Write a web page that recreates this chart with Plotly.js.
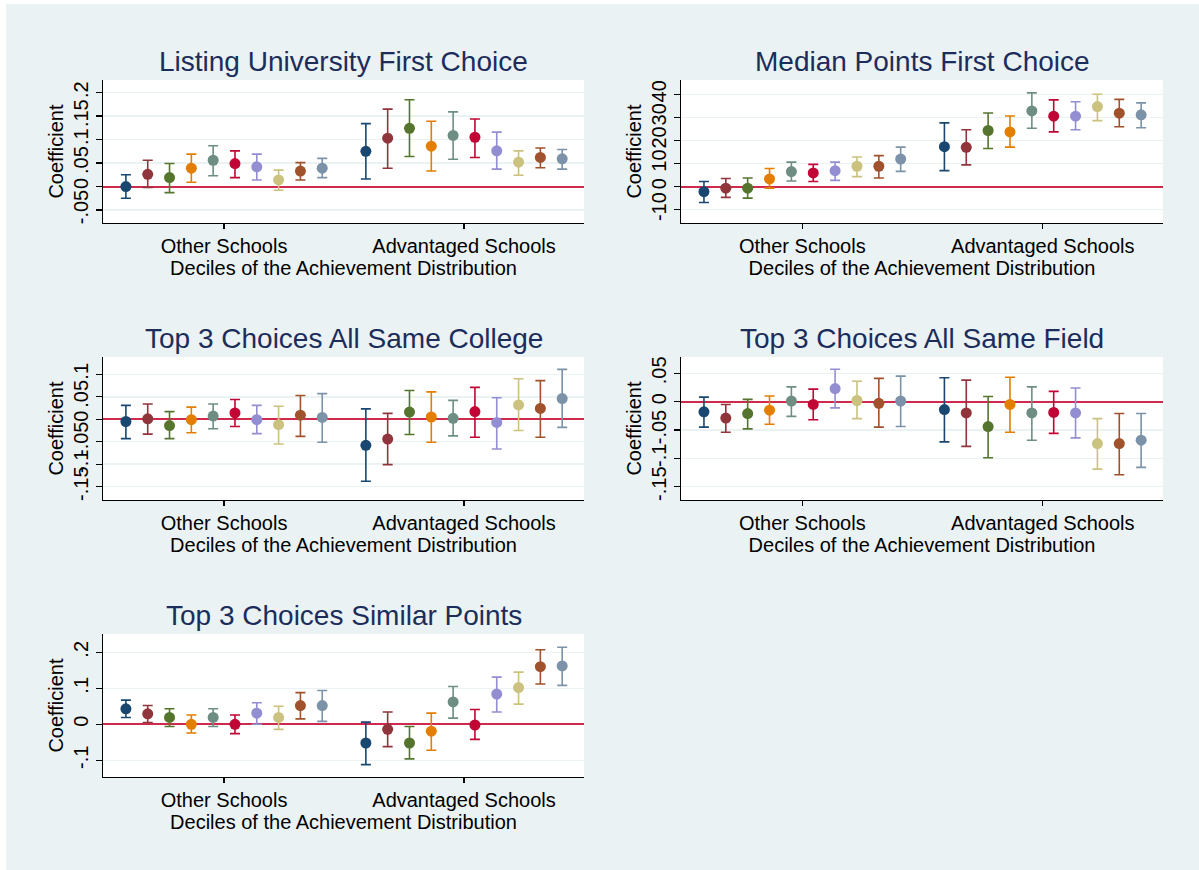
<!DOCTYPE html>
<html><head><meta charset="utf-8">
<script src="https://cdn.plot.ly/plotly-3.0.1.min.js"></script>
<style>body{margin:0;background:#ffffff}#chart{position:absolute;left:6px;top:4px;width:1193px;height:866px}</style>
</head><body><div id="chart"></div><script>
// ---------- categories ----------
const groups = ["Other Schools", "Advantaged Schools"];
const deciles = [1, 2, 3, 4, 5, 6, 7, 8, 9, 10];
const decileColors = ["#1a476f", "#90353b", "#55752f", "#e37e00", "#6e8e84",
                      "#c10534", "#938dd2", "#cac27e", "#a0522d", "#7b92a8"];
const xTitle = "Deciles of the Achievement Distribution";
const yTitle = "Coefficient";

// ---------- values: first 10 = Other Schools deciles 1-10, next 10 = Advantaged Schools ----------
// Listing University First Choice
const listUni_coef = [0, .026, .019, .039, .056, .049, .042, .014, .033, .039,
                      .075, .103, .124, .086, .109, .105, .076, .052, .062, .059];
const listUni_hi   = [.025, .056, .049, .069, .087, .076, .069, .035, .051, .060,
                      .134, .165, .185, .139, .159, .144, .116, .076, .082, .079];
const listUni_lo   = [-.025, -.002, -.013, .009, .023, .019, .014, -.008, .014, .019,
                      .016, .039, .064, .033, .058, .062, .037, .024, .040, .037];
const listUni_ticks = [-0.05, 0, 0.05, 0.1, 0.15, 0.2];
const listUni_tickText = ["-.05", "0", ".05", ".1", ".15", ".2"];

// Median Points First Choice
const medPts_coef = [-2.2, -0.7, -0.7, 3.3, 6.5, 5.9, 6.9, 8.8, 8.8, 11.9,
                     17.3, 17.0, 24.3, 23.7, 32.8, 30.5, 30.5, 34.7, 31.8, 31.1];
const medPts_hi   = [2.2, 3.5, 3.7, 7.8, 10.6, 9.6, 10.6, 12.8, 13.4, 17.1,
                     27.6, 24.6, 31.9, 30.6, 40.6, 37.6, 36.8, 40.0, 37.8, 36.3];
const medPts_lo   = [-6.9, -4.7, -5.0, -0.7, 2.4, 2.2, 2.7, 4.3, 3.7, 6.6,
                     6.9, 9.4, 16.5, 17.1, 25.3, 23.7, 24.6, 28.6, 25.9, 25.5];
const medPts_ticks = [-10, 0, 10, 20, 30, 40];
const medPts_tickText = ["-10", "0", "10", "20", "30", "40"];

// Top 3 Choices All Same College
const sameCol_coef = [-.005, .001, -.014, -.001, .007, .014, -.001, -.012, .009, .004,
                      -.058, -.044, .016, .005, .002, .017, -.007, .032, .024, .046];
const sameCol_hi   = [.031, .034, .017, .027, .034, .044, .031, .029, .053, .057,
                      .023, .013, .064, .061, .042, .071, .048, .090, .086, .111];
const sameCol_lo   = [-.043, -.033, -.043, -.030, -.021, -.016, -.032, -.055, -.038, -.051,
                      -.138, -.101, -.034, -.051, -.037, -.040, -.066, -.025, -.040, -.018];
const sameCol_ticks = [-0.15, -0.1, -0.05, 0, 0.05, 0.1];
const sameCol_tickText = ["-.15", "-.1", "-.05", "0", ".05", ".1"];

// Top 3 Choices All Same Field
const sameField_coef = [-.018, -.029, -.021, -.015, .001, -.005, .023, .002, -.003, .001,
                        -.014, -.020, -.044, -.005, -.020, -.019, -.020, -.074, -.074, -.068];
const sameField_hi   = [.008, -.005, .004, .010, .026, .022, .057, .036, .041, .045,
                        .042, .038, .009, .043, .026, .018, .024, -.030, -.021, -.021];
const sameField_lo   = [-.045, -.054, -.048, -.040, -.026, -.032, -.011, -.030, -.045, -.044,
                        -.071, -.079, -.099, -.054, -.068, -.056, -.064, -.119, -.129, -.116];
const sameField_ticks = [-0.15, -0.1, -0.05, 0, 0.05];
const sameField_tickText = ["-.15", "-.1", "-.05", "0", ".05"];

// Top 3 Choices Similar Points
const simPts_coef = [.043, .029, .019, 0, .019, 0, .031, .019, .052, .052,
                     -.052, -.014, -.052, -.019, .062, -.002, .084, .102, .160, .162];
const simPts_hi   = [.067, .052, .043, .026, .043, .026, .060, .050, .088, .094,
                     .006, .034, -.006, .031, .105, .041, .131, .145, .207, .214];
const simPts_lo   = [.019, .005, -.006, -.024, -.006, -.026, 0, -.014, .015, .008,
                     -.112, -.062, -.096, -.072, .017, -.042, .034, .056, .112, .108];
const simPts_ticks = [-0.1, 0, 0.1, 0.2];
const simPts_tickText = ["-.1", "0", ".1", ".2"];

// ---------- figure ----------
const W = 1193, H = 866;
const px = v => v / W, py = v => 1 - v / H;   // figure-pixel helpers for layout

const panels = [
  {title: "Listing University First Choice", coef: listUni_coef, lo: listUni_lo, hi: listUni_hi,
   tv: listUni_ticks, tt: listUni_tickText, range: [-0.0777, 0.227], x: [97, 578], y: [76, 219]},
  {title: "Median Points First Choice", coef: medPts_coef, lo: medPts_lo, hi: medPts_hi,
   tv: medPts_ticks, tt: medPts_tickText, range: [-15.8, 46.2], x: [675, 1157], y: [76, 219]},
  {title: "Top 3 Choices All Same College", coef: sameCol_coef, lo: sameCol_lo, hi: sameCol_hi,
   tv: sameCol_ticks, tt: sameCol_tickText, range: [-0.1796, 0.1385], x: [97, 578], y: [353, 496]},
  {title: "Top 3 Choices All Same Field", coef: sameField_coef, lo: sameField_lo, hi: sameField_hi,
   tv: sameField_ticks, tt: sameField_tickText, range: [-0.1735, 0.0787], x: [675, 1157], y: [353, 496]},
  {title: "Top 3 Choices Similar Points", coef: simPts_coef, lo: simPts_lo, hi: simPts_hi,
   tv: simPts_ticks, tt: simPts_tickText, range: [-0.1464, 0.2508], x: [97, 578], y: [630, 773]}
];

const FONT = "Liberation Sans, Arial, Helvetica, sans-serif";
const traces = [];
const layout = {
  width: W, height: H,
  margin: {l: 0, r: 0, t: 0, b: 0},
  paper_bgcolor: "#eaf2f3",
  plot_bgcolor: "#ffffff",
  showlegend: false,
  font: {family: FONT, color: "#000000", size: 20},
  annotations: []
};

panels.forEach((p, i) => {
  const s = i === 0 ? "" : String(i + 1);
  deciles.forEach((d, k) => {
    const idx = [k, 10 + k];
    traces.push({
      type: "scatter", mode: "markers",
      x: groups.map((g, gi) => gi * 11 + d),
      y: idx.map(j => p.coef[j]),
      xaxis: "x" + s, yaxis: "y" + s,
      marker: {color: decileColors[k], size: 11},
      error_y: {type: "data", symmetric: false,
        array: idx.map(j => p.hi[j] - p.coef[j]),
        arrayminus: idx.map(j => p.coef[j] - p.lo[j]),
        color: decileColors[k], thickness: 1.6, width: 5},
      hoverinfo: "y"
    });
  });
  layout["xaxis" + s] = {
    domain: [px(p.x[0]), px(p.x[1])], anchor: "y" + s,
    range: [-0.05, 22], fixedrange: true,
    tickmode: "array", tickvals: groups.map((g, gi) => gi * 11 + 5.5), ticktext: groups,
    ticks: "outside", ticklen: 5, tickwidth: 1.3, tickcolor: "#000",
    showline: true, linecolor: "#000", linewidth: 1.3,
    showgrid: false, zeroline: false,
    tickfont: {size: 20, family: FONT},
    ticklabelstandoff: 0,
    title: {text: xTitle, font: {size: 20, family: FONT}, standoff: 0}
  };
  layout["yaxis" + s] = {
    domain: [py(p.y[1]), py(p.y[0])], anchor: "x" + s,
    range: p.range, fixedrange: true,
    tickmode: "array", tickvals: p.tv, ticktext: p.tt, tickangle: -90,
    ticks: "outside", ticklen: 6, tickwidth: 1.3, tickcolor: "#000",
    showline: true, linecolor: "#000", linewidth: 1.3,
    showgrid: true, gridcolor: "#eaf2f3", gridwidth: 1.5,
    zeroline: true, zerolinecolor: "#cf2a4e", zerolinewidth: 2,
    tickfont: {size: 20, family: FONT},
    title: {text: yTitle, font: {size: 20, family: FONT}, standoff: 0}
  };
  layout.annotations.push({
    text: p.title, xref: "paper", yref: "paper",
    x: px((p.x[0] + p.x[1]) / 2), y: py(p.y[0] - 19),
    xanchor: "center", yanchor: "middle", showarrow: false,
    font: {size: 28, family: FONT, color: "#1c2d5c"}
  });
});

Plotly.newPlot("chart", traces, layout, {displayModeBar: false, staticPlot: true});
</script></body></html>
